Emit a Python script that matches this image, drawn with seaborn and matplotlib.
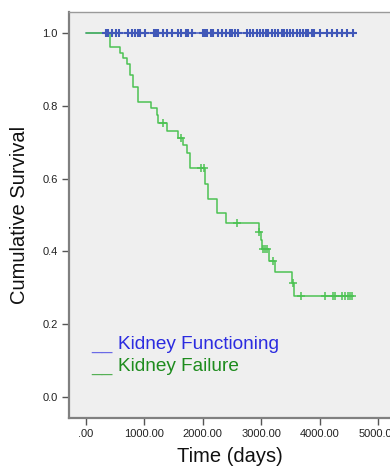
import matplotlib
matplotlib.use("Agg")
import matplotlib.pyplot as plt
import seaborn as sns
import pandas as pd

# ---- data ----
func_line_t = [0, 4574]
func_line_s = [1.0, 1.0]
func_cens_t = [342, 386, 444, 513, 569, 728, 797, 843, 889, 933, 1015, 1173, 1202, 1231,
               1316, 1385, 1470, 1583, 1629, 1709, 1754, 1812, 2010, 2039, 2074, 2142,
               2181, 2256, 2325, 2393, 2467, 2506, 2552, 2609, 2752, 2809, 2865, 2923,
               2979, 3036, 3077, 3121, 3179, 3236, 3292, 3350, 3395, 3436, 3492, 3549,
               3607, 3663, 3720, 3761, 3805, 3863, 3908, 4005, 4120, 4205, 4291, 4376,
               4462, 4574]
func_cens_s = [1.0] * len(func_cens_t)

fail_t = [0, 415, 586, 643, 701, 757, 809, 894, 1116, 1214, 1241, 1385, 1583, 1668, 1726,
          1783, 2039, 2096, 2239, 2398, 2955, 2997, 3015, 3135, 3236, 3532, 3561, 4557]
fail_s = [1.0, 0.962, 0.945, 0.931, 0.914, 0.885, 0.852, 0.811, 0.794, 0.775, 0.752, 0.732,
          0.711, 0.692, 0.669, 0.628, 0.585, 0.543, 0.505, 0.479, 0.454, 0.431, 0.406,
          0.374, 0.344, 0.314, 0.277, 0.277]
fail_cens_t = [1326, 1624, 1971, 2022, 2591, 2962, 3031, 3065, 3099, 3207, 3549, 3680,
               4091, 4232, 4262, 4376, 4432, 4489, 4523, 4557]
fail_cens_s = [0.752, 0.711, 0.628, 0.628, 0.479, 0.454, 0.406, 0.406, 0.406, 0.374,
               0.314, 0.277, 0.277, 0.277, 0.277, 0.277, 0.277, 0.277, 0.277, 0.277]

x_ticks = [0, 1000, 2000, 3000, 4000, 5000]
x_tick_labels = [".00", "1000.00", "2000.00", "3000.00", "4000.00", "5000.00"]
y_ticks = [0.0, 0.2, 0.4, 0.6, 0.8, 1.0]
y_tick_labels = ["0.0", "0.2", "0.4", "0.6", "0.8", "1.0"]
groups = ["Kidney Functioning", "Kidney Failure"]

sns.set_style("white")
plt.rcParams["font.family"] = ["Liberation Sans", "DejaVu Sans"]

W, H = 390, 467
fig = plt.figure(figsize=(W / 100, H / 100), dpi=100)
left_px, right_px, top_px, bot_px = 69, 391, 12, 418
ax = fig.add_axes([left_px / W, 1 - bot_px / H, (right_px - left_px) / W, (bot_px - top_px) / H])
ax.set_facecolor("#efefef")

blue_line = "#4a5fc1"
blue_mark = "#4158b8"
green_line = "#4cc253"

df_fl = pd.DataFrame({"t": func_line_t, "s": func_line_s})
df_fc = pd.DataFrame({"t": func_cens_t, "s": func_cens_s})
df_al = pd.DataFrame({"t": fail_t, "s": fail_s})
df_ac = pd.DataFrame({"t": fail_cens_t, "s": fail_cens_s})

sns.lineplot(data=df_fl, x="t", y="s", ax=ax, color=blue_line, lw=1.1,
             drawstyle="steps-post", estimator=None, zorder=2)
sns.lineplot(data=df_al, x="t", y="s", ax=ax, color=green_line, lw=1.1,
             drawstyle="steps-post", estimator=None, zorder=2.5)
sns.scatterplot(data=df_fc, x="t", y="s", ax=ax, marker="+", color=blue_mark, s=28,
                linewidth=1.5, zorder=3)
sns.scatterplot(data=df_ac, x="t", y="s", ax=ax, marker="+", color=green_line, s=28,
                linewidth=1.1, zorder=3)

# axis ranges derived from the pixel geometry of the reference
ax.set_xlim(-285, 5219)
ax.set_ylim(-0.0577, 1.0577)

ax.set_xticks(x_ticks)
ax.set_xticklabels(x_tick_labels)
ax.set_yticks(y_ticks)
ax.set_yticklabels(y_tick_labels)
for lab in ax.get_xticklabels() + ax.get_yticklabels():
    lab.set_fontfamily(["Liberation Sans Narrow", "Liberation Sans"])
    lab.set_fontsize(8)
    lab.set_color("#222222")
ax.tick_params(axis="both", direction="out", length=5, width=1, color="#555555", pad=3,
               bottom=True, left=True)

ax.spines["right"].set_visible(False)
ax.spines["left"].set_color("#808080")
ax.spines["left"].set_linewidth(1.6)
ax.spines["bottom"].set_color("#808080")
ax.spines["bottom"].set_linewidth(1.6)
ax.spines["top"].set_color("#9a9a9a")
ax.spines["top"].set_linewidth(1.0)

ax.set_xlabel("Time (days)", fontsize=14.5, color="#111111")
ax.set_ylabel("Cumulative Survival", fontsize=14.5, color="#111111")
ax.xaxis.set_label_coords(0.5, (bot_px - 456) / (bot_px - top_px))
ax.xaxis.label.set_verticalalignment("center")
ax.yaxis.set_label_coords((20 - left_px) / (right_px - left_px), 0.5)
ax.yaxis.label.set_verticalalignment("center")

# legend drawn as SPSS-style text
leg = [(groups[0], "#2b2be0", "#6a6ae6", 349), (groups[1], "#1e8c1e", "#55b055", 371)]
for name, tc, uc, base in leg:
    fig.text(91 / W, 1 - base / H, "__", color=uc, fontsize=13.7, va="baseline", ha="left")
    fig.text(118 / W, 1 - base / H, name, color=tc, fontsize=13.7, va="baseline", ha="left")

fig.savefig("out.png", dpi=100)
